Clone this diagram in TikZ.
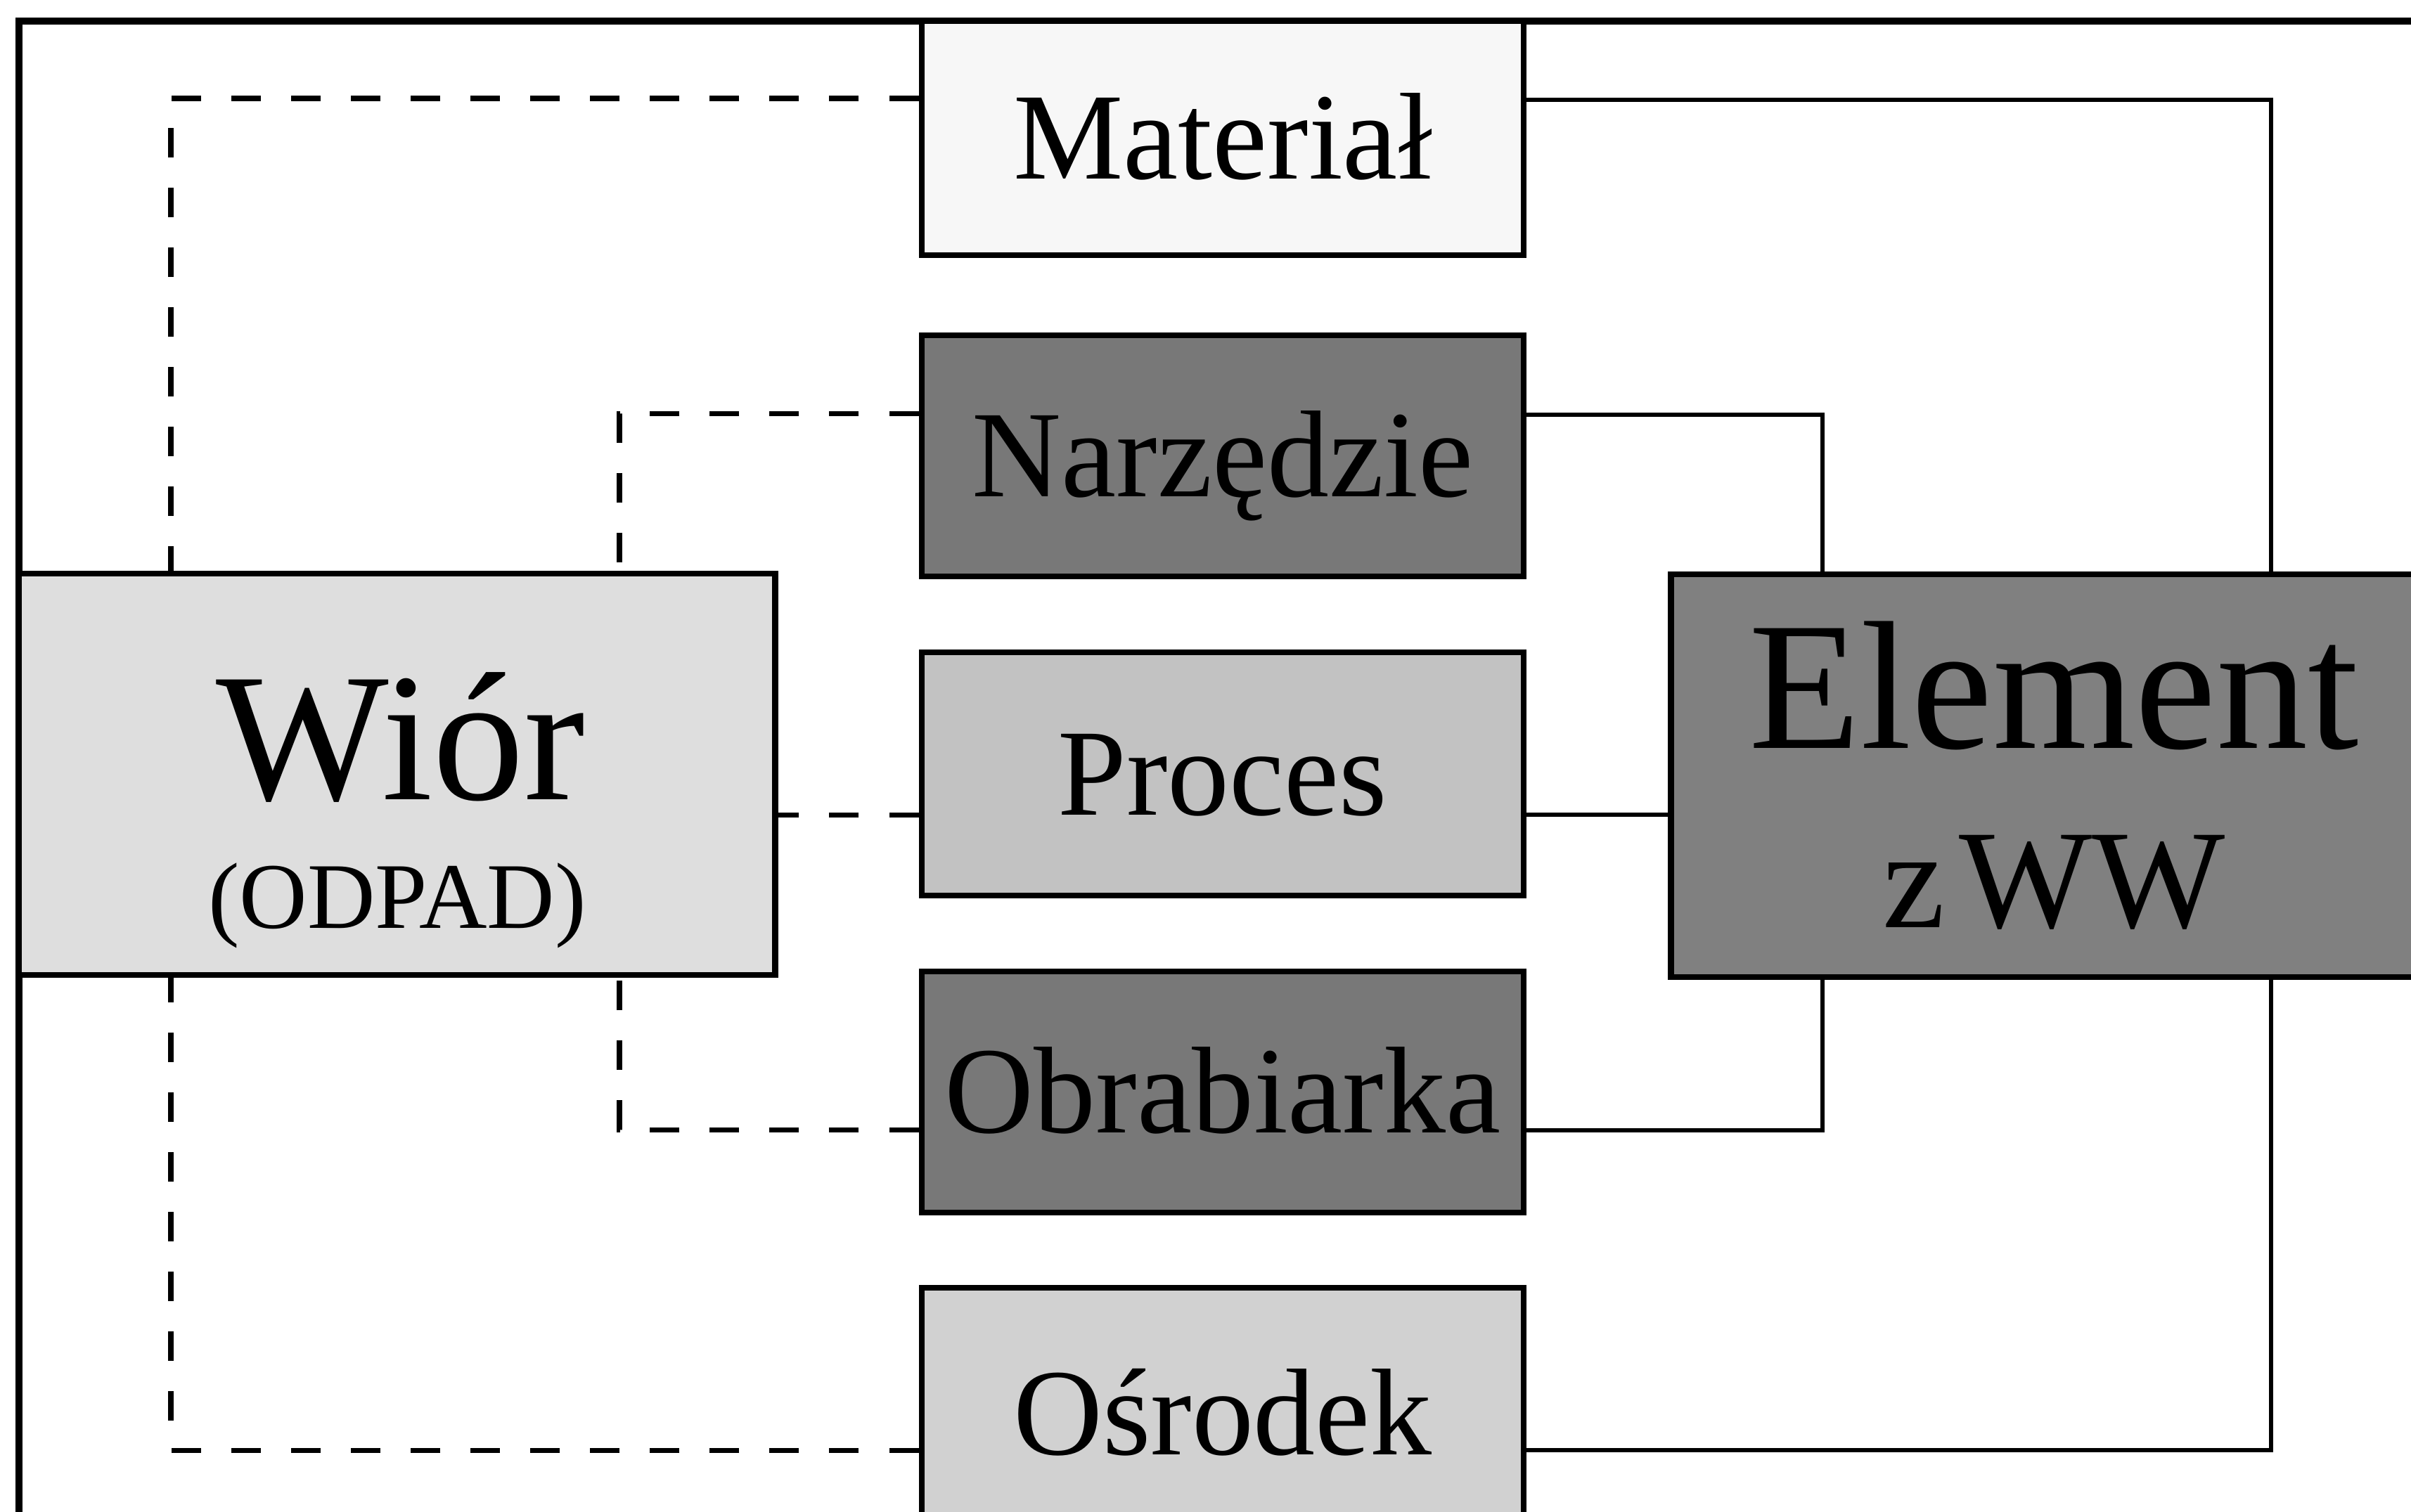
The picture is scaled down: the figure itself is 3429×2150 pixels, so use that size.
\documentclass[tikz,border=0pt]{standalone}
\usepackage{fontspec}
\setmainfont{Liberation Serif}
\definecolor{matfill}{gray}{0.97}
\definecolor{darkfill}{gray}{0.47}
\definecolor{elemfill}{gray}{0.50}
\definecolor{procfill}{gray}{0.76}
\definecolor{osrfill}{gray}{0.82}
\definecolor{wiorfill}{gray}{0.87}
\begin{document}
\begin{tikzpicture}[x=0.01cm,y=-0.01cm,
  box/.style={draw=black, line width=2.4pt, rectangle, inner sep=0pt,
    minimum width=8.56cm, text height=33pt, text depth=0pt,
    font=\fontsize{50}{60}\selectfont},
  conn/.style={line width=1.7pt},
  dsh/.style={line width=2pt, dash pattern=on 0.42cm off 0.43cm},
  frame/.style={line width=2.6pt}]
\useasboundingbox (0,0) rectangle (3429,2150);
\clip (0,0) rectangle (3429,2150);
\fill[white] (0,0) rectangle (3429,2150);
% outer frame (right and bottom edges lie outside the picture)
\draw[frame] (27,30) rectangle (3600,2300);
% boxes
\node[box, fill=matfill, minimum height=3.33cm] (mat) at (1739,196.5) {Materiał};
\node[box, fill=darkfill, minimum height=3.43cm] (narz) at (1739,648.5) {Narzędzie};
\node[box, fill=procfill, minimum height=3.46cm] (proc) at (1739,1101) {Proces};
\node[box, fill=darkfill, minimum height=3.43cm] (obr) at (1739,1553.5) {Obrabiarka};
\node[box, fill=osrfill, minimum height=3.58cm] (osr) at (1739,2011) {Ośrodek};
\node[draw=black, line width=2.4pt, rectangle, inner sep=0pt, fill=wiorfill,
  minimum width=10.75cm, minimum height=5.71cm] (wior) at (564.5,1101.5) {};
\node[anchor=base, inner sep=0pt, font=\fontsize{74}{80}\selectfont] (wiort) at (570,1137) {Wiór};
\node[anchor=base, inner sep=0pt, font=\fontsize{38}{40}\selectfont] (odpad) at (565,1320) {(ODPAD)};
\node[draw=black, line width=2.4pt, rectangle, inner sep=0pt, fill=elemfill,
  minimum width=10.88cm, minimum height=5.73cm, align=center,
  font=\fontsize{74}{72.5}\selectfont] (elem) at (2921,1103.5)
  {Element\\{\fontsize{57}{72.5}\selectfont z\hspace{0.1em}WW}};
% helper coordinates for the connector routes
\coordinate (m1) at (3230,142);
\coordinate (n1) at (2592,590);
\coordinate (py) at (0,1159);
\coordinate (o1) at (2592,1608);
\coordinate (s1) at (3230,2063);
\coordinate (md) at (243,140);
\coordinate (nd) at (881,588);
\coordinate (od) at (881,1607);
\coordinate (sd) at (243,2063);
% solid connectors to the element
\draw[conn] (mat.east |- m1) -- (m1) -- (m1 |- elem.north);
\draw[conn] (narz.east |- n1) -- (n1) -- (n1 |- elem.north);
\draw[conn] (proc.east |- py) -- (elem.west |- py);
\draw[conn] (obr.east |- o1) -- (o1) -- (o1 |- elem.south);
\draw[conn] (osr.east |- s1) -- (s1) -- (s1 |- elem.south);
% dashed connectors to the chip
\draw[dsh] (mat.west |- md) -- (md) -- (md |- wior.north);
\draw[dsh] (narz.west |- nd) -- (nd) -- (nd |- wior.north);
\draw[dsh] (proc.west |- py) -- (wior.east |- py);
\draw[dsh] (obr.west |- od) -- (od) -- (od |- wior.south);
\draw[dsh] (osr.west |- sd) -- (sd) -- (sd |- wior.south);
\end{tikzpicture}
\end{document}
